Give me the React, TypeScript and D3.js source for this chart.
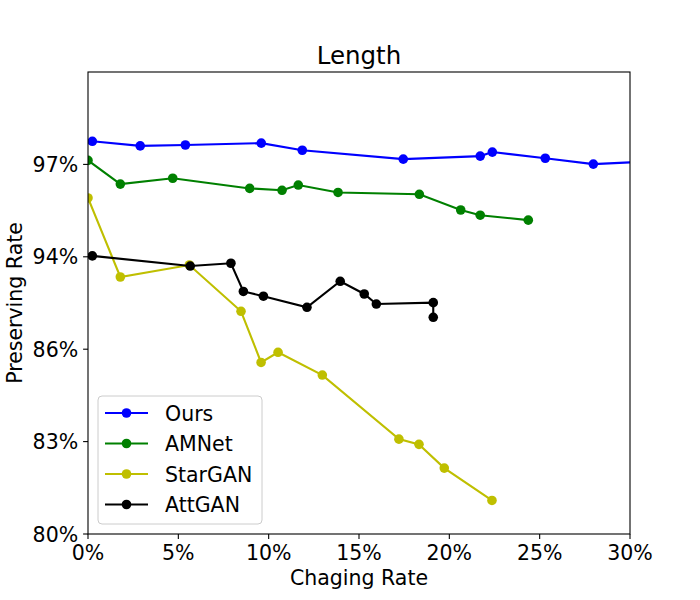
import React from "react";
import * as d3 from "d3";

const seriesNames = ["Ours", "AMNet", "StarGAN", "AttGAN"];
const seriesColors = ["#0000ff", "#008000", "#bfbf00", "#000000"];

const oursX = [0.24, 2.89, 5.39, 9.59, 11.86, 17.45, 21.71, 22.38, 25.31, 27.97, 32.0];
const oursY = [97.75, 97.6, 97.63, 97.69, 97.46, 97.17, 97.27, 97.4, 97.2, 97.01, 97.12];

const amnetX = [0, 1.79, 4.69, 8.95, 10.74, 11.64, 13.84, 18.34, 20.63, 21.71, 24.37];
const amnetY = [97.13, 96.36, 96.55, 96.22, 96.16, 96.33, 96.09, 96.03, 95.52, 95.35, 95.19];

const starganX = [0, 1.79, 5.61, 8.47, 9.58, 10.52, 12.97, 17.21, 18.32, 19.72, 22.36];
const starganY = [95.91, 92.25, 93.29, 89.28, 85.57, 85.9, 85.16, 83.08, 82.91, 82.14, 81.09];

const attganX = [0.24, 5.66, 7.91, 8.6, 9.71, 12.12, 13.96, 15.29, 15.96, 19.11, 19.11];
const attganY = [94.03, 93.2, 93.44, 91.0, 90.59, 89.63, 91.88, 90.78, 89.91, 90.03, 88.76];

const xTicks = [0, 5, 10, 15, 20, 25, 30];
const yTicks = [80, 83, 86, 94, 97];
const yDomain = [80, 83, 86, 94, 97, 100];

const W = 700;
const H = 600;
const L = 88;
const R = 630;
const T = 72;
const B = 534;

const FONT = "DejaVu Sans";

export default function App() {
  const x = d3.scaleLinear().domain([0, 30]).range([L, R]);
  const step = (B - T) / 5;
  const y = d3
    .scaleLinear()
    .domain(yDomain)
    .range(yDomain.map((_, i) => B - i * step));

  const series = [
    { xs: oursX, ys: oursY },
    { xs: amnetX, ys: amnetY },
    { xs: starganX, ys: starganY },
    { xs: attganX, ys: attganY },
  ];

  const line = d3
    .line<[number, number]>()
    .x((d) => x(d[0]))
    .y((d) => y(d[1]));

  const tickLen = 4.9;
  const fs = 20.5;
  const mr = 4.8;

  const legX = 98;
  const legY = 396;
  const legW = 164;
  const legH = 128;
  const rowY = [413, 443.5, 474, 504.5];

  return (
    <svg
      width={W}
      height={H}
      style={{ position: "absolute", left: 0, top: 0, background: "#fff" }}
      fontFamily={FONT}
    >
      <defs>
        <clipPath id="plotclip">
          <rect x={L} y={T} width={R - L} height={B - T} />
        </clipPath>
      </defs>
      <rect x={0} y={0} width={W} height={H} fill="#fff" />

      <g clipPath="url(#plotclip)">
        {series.map((s, i) => {
          const pts: [number, number][] = s.xs.map((v, j) => [v, s.ys[j]]);
          return (
            <g key={i}>
              <path d={line(pts) || ""} fill="none" stroke={seriesColors[i]} strokeWidth={2.1} />
              {pts.map((p, j) => (
                <circle key={j} cx={x(p[0])} cy={y(p[1])} r={mr} fill={seriesColors[i]} />
              ))}
            </g>
          );
        })}
      </g>

      {/* axes frame */}
      <rect x={L} y={T} width={R - L} height={B - T} fill="none" stroke="#000" strokeWidth={1.1} />

      {/* x ticks */}
      {xTicks.map((t) => (
        <g key={"x" + t}>
          <line x1={x(t)} x2={x(t)} y1={B} y2={B + tickLen} stroke="#000" strokeWidth={1.1} />
          <text x={x(t)} y={560} textAnchor="middle" fontSize={fs} fill="#000">
            {t + "%"}
          </text>
        </g>
      ))}

      {/* y ticks */}
      {yTicks.map((t) => (
        <g key={"y" + t}>
          <line x1={L - tickLen} x2={L} y1={y(t)} y2={y(t)} stroke="#000" strokeWidth={1.1} />
          <text x={L - 2 * tickLen} y={y(t) + 7.5} textAnchor="end" fontSize={fs} fill="#000">
            {t + "%"}
          </text>
        </g>
      ))}

      {/* labels */}
      <text x={(L + R) / 2} y={585} textAnchor="middle" fontSize={fs} fill="#000">
        Chaging Rate
      </text>
      <text
        transform={`translate(21.5, ${(T + B) / 2}) rotate(-90)`}
        textAnchor="middle"
        fontSize={fs}
        fill="#000"
      >
        Preserving Rate
      </text>
      <text x={(L + R) / 2} y={64} textAnchor="middle" fontSize={24.5} fill="#000">
        Length
      </text>

      {/* legend */}
      <rect
        x={legX}
        y={legY}
        width={legW}
        height={legH}
        rx={4}
        ry={4}
        fill="#fff"
        fillOpacity={0.8}
        stroke="#cccccc"
        strokeWidth={1}
      />
      {seriesNames.map((n, i) => (
        <g key={n}>
          <line x1={105} x2={148} y1={rowY[i]} y2={rowY[i]} stroke={seriesColors[i]} strokeWidth={2.1} />
          <circle cx={126.5} cy={rowY[i]} r={mr} fill={seriesColors[i]} />
          <text x={165} y={rowY[i] + 7.5} fontSize={fs} fill="#000">
            {n}
          </text>
        </g>
      ))}
    </svg>
  );
}
